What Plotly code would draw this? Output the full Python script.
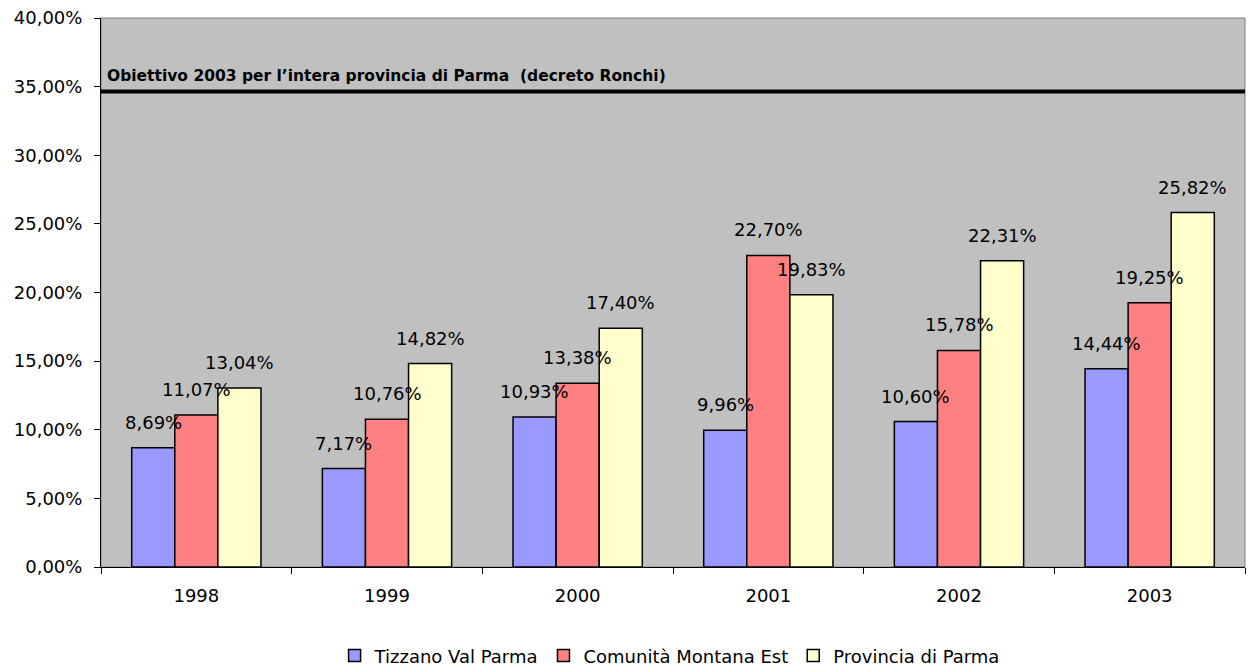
import plotly.graph_objects as go

years = ["1998", "1999", "2000", "2001", "2002", "2003"]
series_names = ["Tizzano Val Parma", "Comunità Montana Est", "Provincia di Parma"]
tizzano = [8.69, 7.17, 10.93, 9.96, 10.60, 14.44]
comunita = [11.07, 10.76, 13.38, 22.70, 15.78, 19.25]
provincia = [13.04, 14.82, 17.40, 19.83, 22.31, 25.82]
colors = ["#9999FF", "#FF8080", "#FFFFCC"]
target_value = 34.65
target_label = "Obiettivo 2003 per l’intera provincia di Parma  (decreto Ronchi)"
y_ticks = [0, 5, 10, 15, 20, 25, 30, 35, 40]

FONT = "DejaVu Sans, Liberation Sans, Arial, sans-serif"
bargap = 0.322

fig = go.Figure()
all_series = [tizzano, comunita, provincia]
for name, vals, col in zip(series_names, all_series, colors):
    fig.add_trace(go.Bar(
        x=years, y=vals, name=name,
        marker=dict(color=col, line=dict(color="black", width=1.5)),
    ))

# data labels as annotations (drawn above all bars)
bw = (1 - bargap) / 3
annotations = []
for k, vals in enumerate(all_series):
    for i, v in enumerate(vals):
        annotations.append(dict(
            x=i + (k - 1) * bw, y=v, xref="x", yref="y",
            text=f"{v:.2f}".replace(".", ",") + "%",
            showarrow=False, yanchor="bottom", xanchor="center", yshift=13,
            font=dict(family=FONT, size=18, color="black"),
        ))

annotations.append(dict(
    x=0, xref="paper", y=target_value, yref="y", xanchor="left", yanchor="bottom",
    xshift=4, yshift=4, showarrow=False, text="<b>" + target_label + "</b>",
    font=dict(family=FONT, size=15.5, color="black"),
))

fig.add_shape(type="line", xref="paper", yref="y", x0=0, x1=1,
              y0=target_value, y1=target_value, line=dict(color="black", width=4))
fig.add_shape(type="rect", xref="paper", yref="paper", x0=0, x1=1, y0=0, y1=1,
              line=dict(color="#808080", width=1), layer="below")

fig.update_layout(
    width=1249, height=666,
    margin=dict(l=101, r=4, t=18, b=99, autoexpand=False),
    paper_bgcolor="white", plot_bgcolor="#C0C0C0",
    barmode="group", bargap=bargap, bargroupgap=0,
    font=dict(family=FONT, size=18, color="black"),
    annotations=annotations,
    showlegend=True,
    legend=dict(orientation="h", x=0.497, xanchor="center", y=-0.128, yanchor="top",
                font=dict(family=FONT, size=18), itemwidth=30, traceorder="normal"),
    xaxis=dict(type="category", showline=True, linecolor="black", linewidth=1,
               ticks="outside", tickson="boundaries", ticklen=6, tickcolor="black",
               showgrid=False, tickfont=dict(family=FONT, size=18),
               ticklabelstandoff=12, automargin=False),
    yaxis=dict(range=[0, 40], tickvals=y_ticks,
               ticktext=[f"{t:.2f}".replace(".", ",") + "%" for t in y_ticks],
               showline=True, linecolor="black", linewidth=1, ticks="outside",
               ticklen=6, tickcolor="black", showgrid=False, zeroline=False,
               tickfont=dict(family=FONT, size=18), ticklabelstandoff=8,
               automargin=False),
)

fig.write_html(
    "out.html",
    config={"displayModeBar": False},
    post_script="document.body.style.margin='0';document.body.style.overflow='hidden';",
)
